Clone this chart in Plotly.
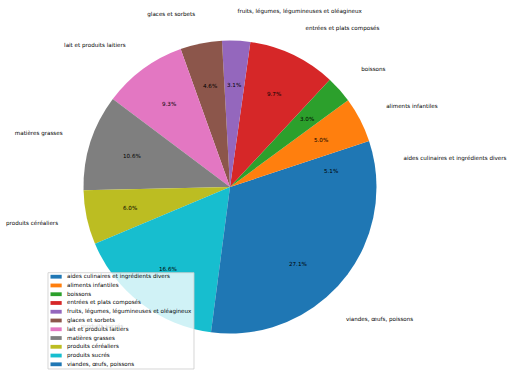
import math
import plotly.graph_objects as go

categories = [
    "aides culinaires et ingrédients divers",
    "aliments infantiles",
    "boissons",
    "entrées et plats composés",
    "fruits, légumes, légumineuses et oléagineux",
    "glaces et sorbets",
    "lait et produits laitiers",
    "matières grasses",
    "produits céréaliers",
    "produits sucrés",
    "viandes, œufs, poissons",
]
values = [5.1, 5.0, 3.0, 9.7, 3.1, 4.6, 9.3, 10.6, 6.0, 16.6, 27.1]
colors = ["#1f77b4", "#ff7f0e", "#2ca02c", "#d62728", "#9467bd", "#8c564b",
          "#e377c2", "#7f7f7f", "#bcbd22", "#17becf", "#1f77b4"]

W, H = 512, 376
CX, CY, R = 230.0, 187.0, 146.5
FS = 5.6
FONT = "DejaVu Sans"


def px(x):
    return x / W


def py(y):
    return 1 - y / H


total = sum(values)
rotation = 90 - values[0] / total * 360

fig = go.Figure()

# outer labels and percentage labels (in a pixel-based hidden cartesian frame)
lab_x, lab_y, lab_pos, pct_x, pct_y, pct_txt = [], [], [], [], [], []
cum = 0.0
for v in values:
    t1 = cum / total * 360
    cum += v
    t2 = cum / total * 360
    mid = math.radians((t1 + t2) / 2)
    c, s = math.cos(mid), math.sin(mid)
    lab_x.append(CX + 1.2 * R * c)
    lab_y.append(CY - 1.2 * R * s)
    lab_pos.append("middle right" if c > 0 else "middle left")
    pct_x.append(CX + 0.7 * R * c)
    pct_y.append(CY - 0.7 * R * s)
    pct_txt.append(f"{v / total * 100:.1f}%")

fig.add_trace(go.Scatter(
    x=lab_x, y=lab_y, text=categories, mode="text", textposition=lab_pos,
    textfont=dict(family=FONT, size=FS, color="black"), hoverinfo="skip", showlegend=False))

fig.add_trace(go.Pie(
    labels=categories, values=values, sort=False, direction="counterclockwise",
    rotation=rotation, marker=dict(colors=colors, line=dict(width=0)),
    textinfo="none", hoverinfo="label+percent", showlegend=False,
    domain=dict(x=[px(CX - R), px(CX + R)], y=[py(CY + R), py(CY - R)]),
))

annotations = []
for x, y, t in zip(pct_x, pct_y, pct_txt):
    annotations.append(dict(
        x=px(x), y=py(y), xref="paper", yref="paper", text=t,
        showarrow=False, xanchor="center", yanchor="middle", borderpad=0,
        font=dict(family=FONT, size=FS, color="black")))

# custom legend (matplotlib style)
shapes = []
LX0, LX1, LY0, LY1 = 48, 194, 272.7, 369
shapes.append(dict(type="rect", xref="paper", yref="paper", layer="above",
                   x0=px(LX0), x1=px(LX1), y0=py(LY1), y1=py(LY0),
                   fillcolor="rgba(255,255,255,0.8)", line=dict(color="rgba(204,204,204,0.8)", width=1)))
for i, (cat, col) in enumerate(zip(categories, colors)):
    yc = 276.7 + 8.76 * i
    shapes.append(dict(type="rect", xref="paper", yref="paper", layer="above",
                       x0=px(50.5), x1=px(61.7), y0=py(yc + 1.9), y1=py(yc - 1.9),
                       fillcolor=col, line=dict(width=0)))
    annotations.append(dict(
        x=px(66), y=py(yc), xref="paper", yref="paper", text=cat, showarrow=False,
        xanchor="left", yanchor="middle", borderpad=0,
        font=dict(family=FONT, size=FS, color="black")))

fig.update_layout(
    width=W, height=H, margin=dict(l=0, r=0, t=0, b=0, pad=0),
    paper_bgcolor="white", plot_bgcolor="rgba(0,0,0,0)",
    xaxis=dict(range=[0, W], visible=False, domain=[0, 1], fixedrange=True),
    yaxis=dict(range=[H, 0], visible=False, domain=[0, 1], fixedrange=True),
    annotations=annotations, shapes=shapes,
)

fig.write_html("out.html", config={"displayModeBar": False},
               post_script="document.body.style.margin='0';")
